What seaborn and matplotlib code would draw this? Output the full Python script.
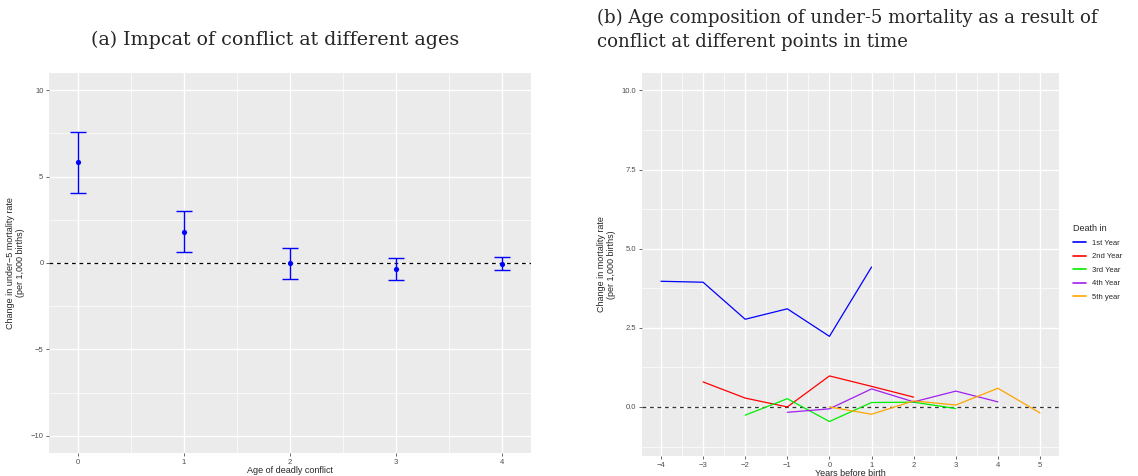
import numpy as np
import pandas as pd
import matplotlib
matplotlib.use('Agg')
import matplotlib.pyplot as plt
import seaborn as sns

# panel (a): effect of conflict by age of deadly conflict
ages = [0, 1, 2, 3, 4]
effect = [5.84, 1.81, 0.0, -0.33, -0.04]
ci_low = [4.06, 0.64, -0.91, -0.96, -0.42]
ci_high = [7.61, 3.00, 0.88, 0.31, 0.35]

# panel (b): age composition over years before birth
groups = ['1st Year', '2nd Year', '3rd Year', '4th Year', '5th year']
group_colors = ['blue', 'red', '#00EE00', '#A020F0', 'orange']
years_1st = [-4, -3, -2, -1, 0, 1]
vals_1st = [3.97, 3.94, 2.77, 3.10, 2.23, 4.42]
years_2nd = [-3, -2, -1, 0, 1, 2]
vals_2nd = [0.79, 0.28, 0.0, 0.98, 0.65, 0.31]
years_3rd = [-2, -1, 0, 1, 2, 3]
vals_3rd = [-0.26, 0.26, -0.46, 0.14, 0.15, -0.05]
years_4th = [-1, 0, 1, 2, 3, 4]
vals_4th = [-0.17, -0.06, 0.57, 0.16, 0.50, 0.16]
years_5th = [0, 1, 2, 3, 4, 5]
vals_5th = [0.0, -0.23, 0.19, 0.06, 0.59, -0.19]

sns.set_theme(style='darkgrid', rc={
    'axes.facecolor': '#EBEBEB',
    'grid.color': 'white',
    'axes.edgecolor': '#EBEBEB',
    'xtick.color': '#4D4D4D',
    'ytick.color': '#4D4D4D',
    'xtick.labelcolor': '#4D4D4D',
    'ytick.labelcolor': '#4D4D4D',
    'xtick.bottom': True,
    'ytick.left': True,
    'xtick.major.size': 2,
    'ytick.major.size': 2,
    'xtick.major.width': 0.6,
    'ytick.major.width': 0.6,
    'xtick.major.pad': 2,
    'ytick.major.pad': 2,
})
plt.rcParams['font.family'] = ['Liberation Sans', 'DejaVu Sans']

W, H = 1138, 476
fig = plt.figure(figsize=(W / 100, H / 100), dpi=100)

def box(x0, y0, x1, y1):
    return [x0 / W, 1 - y1 / H, (x1 - x0) / W, (y1 - y0) / H]

def style_grid(ax, xminor, yminor):
    ax.set_xticks(xminor, minor=True)
    ax.set_yticks(yminor, minor=True)
    ax.grid(which='major', color='white', linewidth=1.0)
    ax.grid(which='minor', color='white', linewidth=0.5)
    ax.tick_params(which='minor', length=0)
    ax.tick_params(labelsize=5.5)
    for s in ax.spines.values():
        s.set_visible(False)
    ax.set_axisbelow(True)

# ---- panel (a)
ax1 = fig.add_axes(box(49, 73, 531, 453))
df_a = pd.DataFrame({'age': ages, 'effect': effect, 'lo': ci_low, 'hi': ci_high})
ax1.axhline(0, color='black', linestyle=(0, (3, 3)), linewidth=0.9, zorder=1)
ax1.errorbar(df_a['age'], df_a['effect'],
             yerr=[df_a['effect'] - df_a['lo'], df_a['hi'] - df_a['effect']],
             fmt='none', ecolor='blue', elinewidth=1.0, capsize=5.8, capthick=1.0, zorder=2)
sns.scatterplot(data=df_a, x='age', y='effect', color='blue', s=14, edgecolor='blue',
                linewidth=0, ax=ax1, zorder=3)
ax1.set_xlim(-0.27, 4.27)
ax1.set_ylim(-11, 11)
ax1.set_xticks(ages)
ax1.set_yticks([-10, -5, 0, 5, 10])
style_grid(ax1, [0.5, 1.5, 2.5, 3.5], [-7.5, -2.5, 2.5, 7.5])
ax1.set_xlabel('Age of deadly conflict', fontsize=6.5, labelpad=0)
ax1.set_ylabel('Change in under\u22125 mortality rate\n(per 1,000 births)', fontsize=6.5, labelpad=4)
fig.text(275 / W, 1 - 45 / H, '(a) Impcat of conflict at different ages',
         family='DejaVu Serif', fontsize=13.7, ha='center', va='baseline')

# ---- panel (b)
ax2 = fig.add_axes(box(642, 73, 1059, 456))
frames = []
for g, xs, vs in zip(groups,
                     [years_1st, years_2nd, years_3rd, years_4th, years_5th],
                     [vals_1st, vals_2nd, vals_3rd, vals_4th, vals_5th]):
    frames.append(pd.DataFrame({'year': xs, 'value': vs, 'Death in': g}))
df_b = pd.concat(frames, ignore_index=True)
ax2.axhline(0, color='#333333', linestyle=(0, (3, 3)), linewidth=0.9, zorder=1)
sns.lineplot(data=df_b, x='year', y='value', hue='Death in', hue_order=groups,
             palette=group_colors, linewidth=0.9, ax=ax2, zorder=2)
ax2.set_xlim(-4.45, 5.45)
ax2.set_ylim(-1.55, 10.55)
ax2.set_xticks(range(-4, 6))
ax2.set_xticklabels(['\u2212%d' % -v if v < 0 else str(v) for v in range(-4, 6)])
ax2.set_yticks([0, 2.5, 5, 7.5, 10])
ax2.set_yticklabels(['0.0', '2.5', '5.0', '7.5', '10.0'])
style_grid(ax2, np.arange(-3.5, 5.0, 1.0), [-1.25, 1.25, 3.75, 6.25, 8.75])
ax2.set_xlabel('Years before birth', fontsize=6.5, labelpad=0)
ax2.set_ylabel('Change in mortality rate\n(per 1,000 births)', fontsize=6.5, labelpad=4)
leg = ax2.legend(loc='upper left', bbox_to_anchor=(1068 / W, 1 - 219 / H),
                 bbox_transform=fig.transFigure, frameon=False, fontsize=5.5,
                 title='Death in', title_fontsize=6.5, handlelength=1.6,
                 labelspacing=0.8, borderpad=0.2)
leg._legend_box.align = 'left'
for line in leg.get_lines():
    line.set_linewidth(1.2)
fig.text(597 / W, 1 - 23 / H, '(b) Age composition of under-5 mortality as a result of',
         family='DejaVu Serif', fontsize=13.1, ha='left', va='baseline')
fig.text(597 / W, 1 - 47 / H, 'conflict at different points in time',
         family='DejaVu Serif', fontsize=13.1, ha='left', va='baseline')

fig.savefig('out.png', dpi=100)
